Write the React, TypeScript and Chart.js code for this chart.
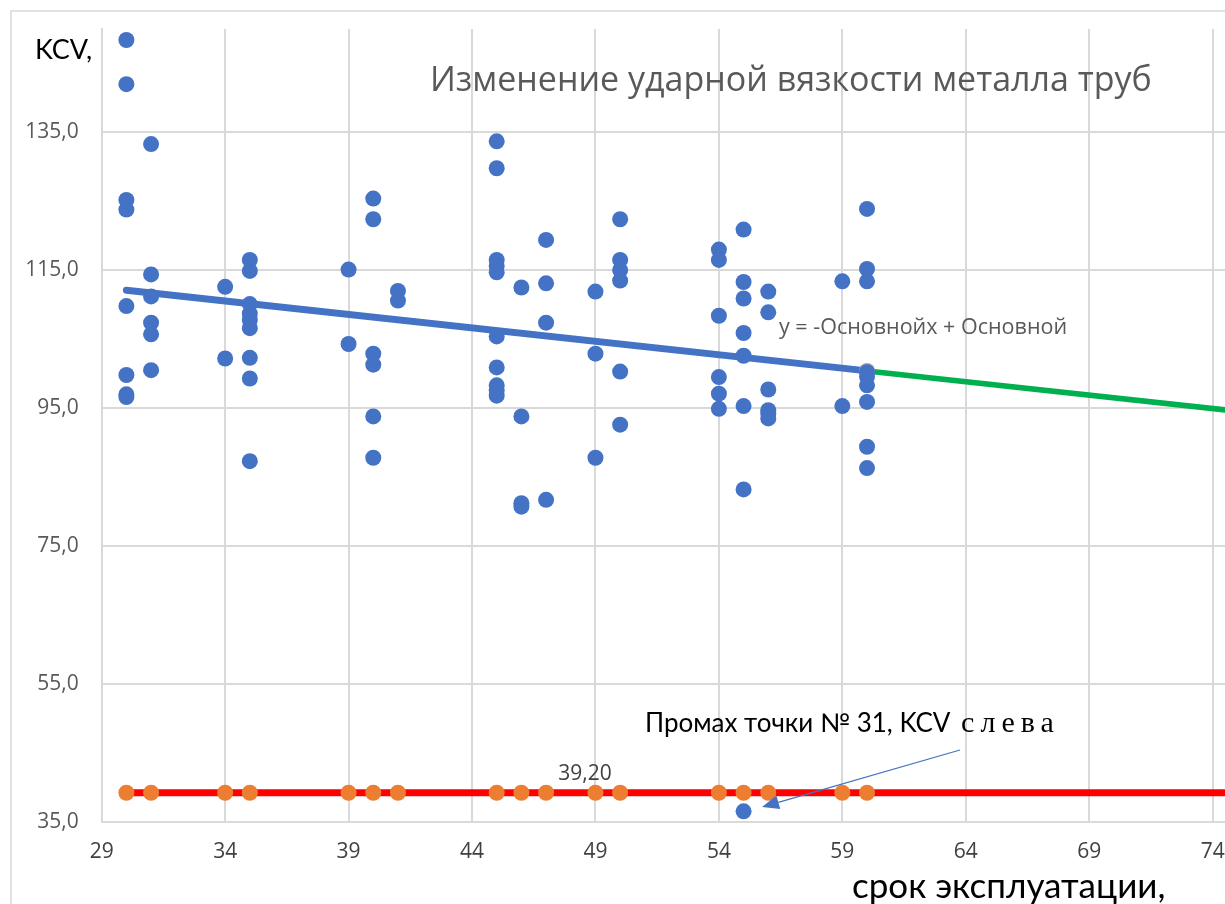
import { useEffect, useRef } from "react";
import { Chart, registerables } from "chart.js";

Chart.register(...registerables);

// ---- data ----
const xTicks = [29, 34, 39, 44, 49, 54, 59, 64, 69, 74];
const yTicks = [35, 55, 75, 95, 115, 135];

const kcvX = [
  30, 30, 30, 30, 30, 30, 30, 30,
  31, 31, 31, 31, 31, 31,
  34, 34,
  35, 35, 35, 35, 35, 35, 35, 35, 35,
  39, 39,
  40, 40, 40, 40, 40, 40,
  41, 41,
  45, 45, 45, 45, 45, 45, 45, 45, 45, 45,
  46, 46, 46, 46,
  47, 47, 47, 47,
  49, 49, 49,
  50, 50, 50, 50, 50, 50,
  54, 54, 54, 54, 54, 54,
  55, 55, 55, 55, 55, 55, 55, 55,
  56, 56, 56, 56, 56, 56,
  59, 59,
  60, 60, 60, 60, 60, 60, 60, 60, 60,
];
const kcvY = [
  148.4, 142.0, 125.2, 123.8, 109.8, 99.8, 97.0, 96.6,
  133.3, 114.4, 111.2, 107.4, 105.7, 100.5,
  112.6, 102.2,
  116.5, 114.9, 110.1, 108.7, 107.8, 106.6, 102.3, 99.3, 87.3,
  115.1, 104.3,
  125.4, 122.4, 102.9, 101.3, 93.8, 87.8,
  112.0, 110.6,
  133.7, 129.8, 116.5, 115.6, 114.7, 105.4, 100.9, 98.3, 97.6, 96.8,
  112.5, 93.8, 81.2, 80.7,
  119.4, 113.1, 107.4, 81.7,
  111.9, 102.9, 87.8,
  122.4, 116.5, 115.0, 113.5, 100.3, 92.6,
  118.0, 116.5, 108.4, 99.5, 97.1, 94.9,
  120.9, 113.3, 110.9, 105.9, 102.6, 95.3, 83.2, 36.5,
  111.9, 108.9, 97.7, 94.7, 94.2, 93.5,
  113.4, 95.3,
  123.9, 115.2, 113.4, 100.2, 99.6, 98.3, 95.9, 89.4, 86.3,
];

const limitX = [30, 31, 34, 35, 39, 40, 41, 45, 46, 47, 49, 50, 54, 55, 56, 59, 60];
const limitY = [39.2, 39.2, 39.2, 39.2, 39.2, 39.2, 39.2, 39.2, 39.2, 39.2, 39.2, 39.2, 39.2, 39.2, 39.2, 39.2, 39.2];

const limitLineX = [30, 75];
const limitLineY = [39.2, 39.2];

const trendX = [30, 60];
const trendY = [112.1, 100.4];

const forecastX = [60, 75];
const forecastY = [100.4, 94.55];

const titleText = "Изменение ударной вязкости металла труб";
const yAxisText = "KCV,";
const xAxisText = "срок эксплуатации,";
const equationText = "y = -Основнойх + Основной";
const limitLabel = "39,20";
const noteSans = "Промах точки № 31, KCV ";
const noteSerif = "слева";

const pts = (xs: number[], ys: number[]) => xs.map((x, i) => ({ x, y: ys[i] }));

const overlay = {
  id: "overlay",
  beforeDraw(chart: any) {
    const ctx = chart.ctx;
    ctx.save();
    ctx.fillStyle = "#ffffff";
    ctx.fillRect(0, 0, chart.width, chart.height);
    ctx.strokeStyle = "#d9d9d9";
    ctx.lineWidth = 1.5;
    ctx.strokeRect(11, 11, chart.width + 40, chart.height + 40);
    ctx.restore();
  },
  afterDraw(chart: any) {
    const ctx = chart.ctx;
    ctx.save();
    ctx.textBaseline = "alphabetic";
    ctx.textAlign = "left";

    ctx.fillStyle = "#595959";
    ctx.font = '34px "Open Sans"';
    ctx.fillText(titleText, 430, 91);

    ctx.fillStyle = "#000000";
    ctx.font = "27px Lato";
    ctx.fillText(yAxisText, 35, 59);

    ctx.font = "35px Lato";
    ctx.fillText(xAxisText, 852, 898);

    ctx.fillStyle = "#595959";
    ctx.font = '21.5px "Open Sans"';
    ctx.fillText(equationText, 779, 334);

    ctx.fillStyle = "#404040";
    ctx.textAlign = "center";
    ctx.font = '21px "Open Sans"';
    ctx.fillText(limitLabel, 585, 780);

    ctx.textAlign = "left";
    ctx.fillStyle = "#000000";
    ctx.font = "26px Lato";
    ctx.fillText(noteSans, 645, 732);
    const w = ctx.measureText(noteSans).width;
    ctx.font = '30px "Liberation Serif"';
    (ctx as any).letterSpacing = "6px";
    ctx.fillText(noteSerif, 645 + w + 4, 732);
    (ctx as any).letterSpacing = "0px";

    // arrow
    const x1 = 960, y1 = 750, x2 = 762, y2 = 807;
    const ang = Math.atan2(y2 - y1, x2 - x1);
    const len = 17, half = 7;
    const bx = x2 - len * Math.cos(ang), by = y2 - len * Math.sin(ang);
    ctx.strokeStyle = "#4472C4";
    ctx.fillStyle = "#4472C4";
    ctx.lineWidth = 1.25;
    ctx.beginPath();
    ctx.moveTo(x1, y1);
    ctx.lineTo(bx, by);
    ctx.stroke();
    ctx.beginPath();
    ctx.moveTo(x2, y2);
    ctx.lineTo(bx + half * Math.sin(ang), by - half * Math.cos(ang));
    ctx.lineTo(bx - half * Math.sin(ang), by + half * Math.cos(ang));
    ctx.closePath();
    ctx.fill();
    ctx.restore();
  },
};

export default function App() {
  const ref = useRef<HTMLCanvasElement | null>(null);

  useEffect(() => {
    if (!ref.current) return;
    const chart = new Chart(ref.current, {
      type: "scatter",
      data: {
        datasets: [
          {
            label: "KCV",
            data: pts(kcvX, kcvY),
            backgroundColor: "#4472C4",
            borderColor: "#4472C4",
            pointRadius: 8,
            pointBorderWidth: 0,
          },
          {
            label: "limit",
            data: pts(limitX, limitY),
            backgroundColor: "#ED7D31",
            borderColor: "#ED7D31",
            pointRadius: 8,
            pointBorderWidth: 0,
          },
          {
            label: "forecast start",
            data: pts([forecastX[0]], [forecastY[0]]),
            backgroundColor: "#A5A5A5",
            borderColor: "#A5A5A5",
            pointRadius: 8,
            pointBorderWidth: 0,
          },
          {
            label: "trend",
            data: pts(trendX, trendY),
            showLine: true,
            borderColor: "#4472C4",
            borderWidth: 7,
            borderCapStyle: "round",
            pointRadius: 0,
          } as any,
          {
            label: "forecast",
            data: pts(forecastX, forecastY),
            showLine: true,
            borderColor: "#00B050",
            borderWidth: 5.5,
            pointRadius: 0,
          },
          {
            label: "limit line",
            data: pts(limitLineX, limitLineY),
            showLine: true,
            borderColor: "#FF0000",
            borderWidth: 7,
            pointRadius: 0,
          },
        ],
      },
      options: {
        animation: false,
        responsive: false,
        layout: { autoPadding: false, padding: { top: 29, left: 0, right: 0, bottom: 0 } },
        plugins: { legend: { display: false }, tooltip: { enabled: false }, title: { display: false } },
        scales: {
          x: {
            type: "linear",
            min: 29,
            max: 74.5,
            afterBuildTicks: (axis: any) => {
              axis.ticks = xTicks.map((v) => ({ value: v }));
            },
            afterFit: (axis: any) => {
              axis.height = 82.3;
              axis.paddingLeft = 0;
              axis.paddingRight = 0;
            },
            grid: { color: "#d9d9d9", lineWidth: 2, drawTicks: false },
            border: { color: "#d9d9d9", width: 2 },
            ticks: {
              padding: 18,
              color: "#404040",
              font: { family: '"Open Sans"', size: 21 },
              callback: (v: any) => String(v),
            },
          },
          y: {
            type: "linear",
            min: 35,
            max: 150,
            afterBuildTicks: (axis: any) => {
              axis.ticks = yTicks.map((v) => ({ value: v }));
            },
            afterFit: (axis: any) => {
              axis.width = 101.7;
              axis.paddingTop = 0;
              axis.paddingBottom = 0;
            },
            grid: { color: "#d9d9d9", lineWidth: 2, drawTicks: false },
            border: { color: "#d9d9d9", width: 2 },
            ticks: {
              padding: 23,
              color: "#595959",
              font: { family: '"Open Sans"', size: 21 },
              callback: (v: any) => Number(v).toFixed(1).replace(".", ","),
            },
          },
        },
      },
      plugins: [overlay],
    });
    return () => chart.destroy();
  }, []);

  return (
    <div style={{ position: "fixed", left: 0, top: 0, width: 1225, height: 904, background: "#fff" }}>
      <canvas ref={ref} width={1225} height={904} style={{ display: "block" }} />
    </div>
  );
}
